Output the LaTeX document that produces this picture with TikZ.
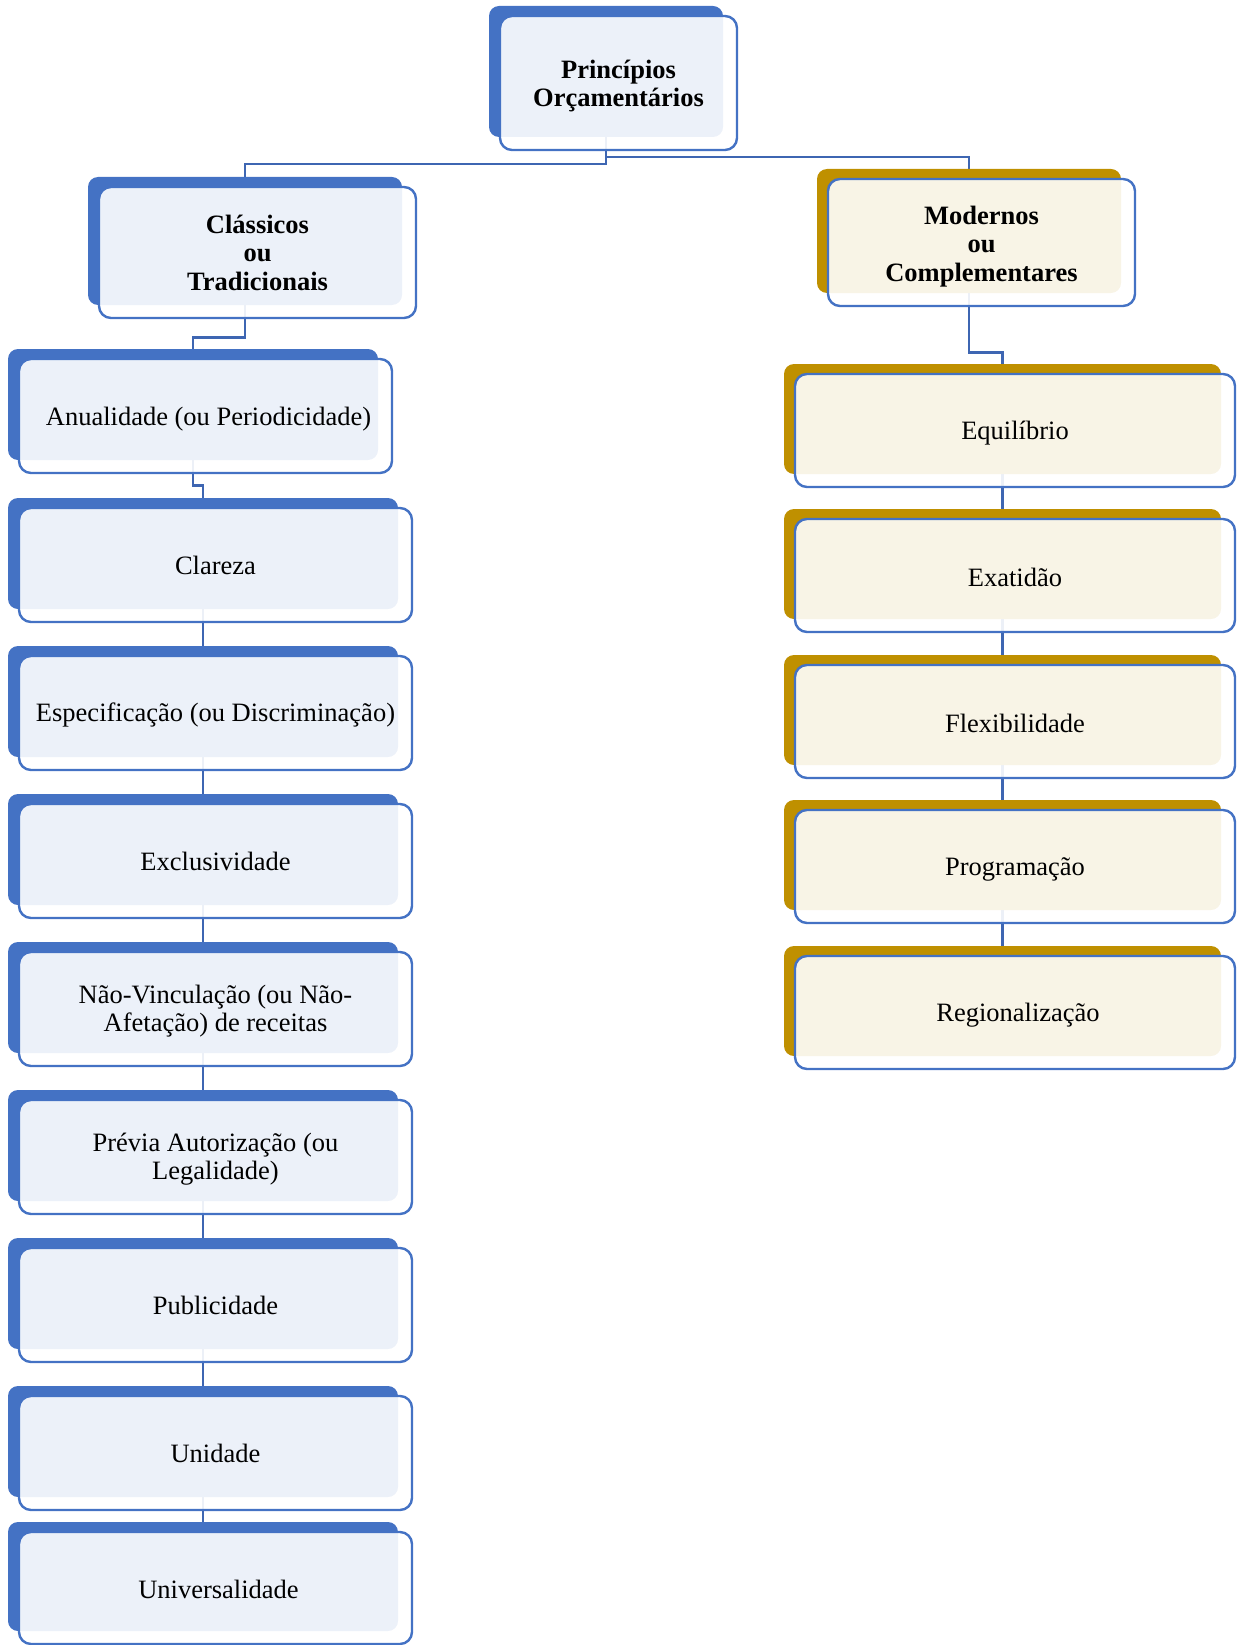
\documentclass[tikz,border=0pt]{standalone}
\usepackage{fontspec}
\setmainfont{Liberation Serif}
\usetikzlibrary{fit,calc}
\pgfdeclarelayer{links}
\pgfsetlayers{links,main}

\definecolor{accentblue}{HTML}{4472C4}
\definecolor{accentgold}{HTML}{BF9000}
\definecolor{linkblue}{HTML}{3E66B2}

\tikzset{
  backbox/.style={rounded corners=10pt, inner sep=0pt, draw=none},
  frontbox/.style={rounded corners=12pt, inner sep=0pt, draw=accentblue,
    line width=2.4pt, fill=white, fill opacity=0.9, draw opacity=1},
  bodytext/.style={inner sep=0pt, align=center, text=black,
    font=\fontsize{26.5}{28.5}\selectfont},
  headtext/.style={bodytext, font=\fontsize{26.5}{28.5}\selectfont\bfseries},
  conn/.style={draw=linkblue, line width=2.6pt},
}

% name, x0, y0, x1, y1, accent colour, text style, label
\newcommand\principle[8]{%
  \node[backbox, fill=#6, fit={(#2,#3) (#4,#5)}] (#1-bg) {};
  \node[frontbox, fit={($(#2,#3)+(11,10)$) ($(#4,#5)+(14,13)$)}] (#1) {};
  \node[#7] (#1-text) at (#1.center) {#8};
}

\begin{document}
\begin{tikzpicture}[x=1pt, y=-1pt]
\useasboundingbox (0,0) rectangle (1240,1645);

% root and the two families
\principle{root}{489}{6}{723}{137}{accentblue}{headtext, yshift=-3pt}{Princípios\\Orçamentários}
\principle{clas}{88}{177}{402}{305}{accentblue}{headtext}{Clássicos\\ou\\Tradicionais}
\principle{mod}{817}{169}{1121}{293}{accentgold}{headtext, yshift=-4pt}{Modernos\\ou\\Complementares}

% classic principles
\principle{anual}{8}{349}{378}{460}{accentblue}{bodytext, xshift=3pt, yshift=-3pt}{Anualidade (ou Periodicidade)}
\principle{clar}{8}{498}{398}{609}{accentblue}{bodytext}{Clareza}
\principle{espec}{8}{646}{398}{757}{accentblue}{bodytext, yshift=-2pt}{Especificação (ou Discriminação)}
\principle{excl}{8}{794}{398}{905}{accentblue}{bodytext}{Exclusividade}
\principle{naov}{8}{942}{398}{1053}{accentblue}{bodytext, yshift=-2pt}{Não-Vinculação (ou Não-\\Afetação) de receitas}
\principle{prev}{8}{1090}{398}{1201}{accentblue}{bodytext, yshift=-2pt}{Prévia Autorização (ou\\Legalidade)}
\principle{publ}{8}{1238}{398}{1349}{accentblue}{bodytext}{Publicidade}
\principle{unid}{8}{1386}{398}{1497}{accentblue}{bodytext}{Unidade}
\principle{univ}{8}{1522}{398}{1631}{accentblue}{bodytext, xshift=3pt, yshift=-1pt}{Universalidade}

% modern principles
\principle{equil}{784}{364}{1221}{474}{accentgold}{bodytext, yshift=-3pt}{Equilíbrio}
\principle{exat}{784}{509}{1221}{619}{accentgold}{bodytext, yshift=-2pt}{Exatidão}
\principle{flex}{784}{655}{1221}{765}{accentgold}{bodytext, yshift=-2pt}{Flexibilidade}
\principle{prog}{784}{800}{1221}{910}{accentgold}{bodytext, yshift=-3pt}{Programação}
\principle{regi}{784}{946}{1221}{1056}{accentgold}{bodytext, xshift=3pt, yshift=-3pt}{Regionalização}

% connectors, kept beneath the boxes
\begin{pgfonlayer}{links}
  \draw[conn] (root-bg.south) -- ++(0,27) -| (clas-bg.north);
  \draw[conn] (root-bg.south) -- ++(0,20) -| (mod-bg.north);
  \draw[conn] (clas-bg.south) -- ++(0,32) -| (anual-bg.north);
  \draw[conn] (anual-bg.south) -- ++(0,25) -| (clar-bg.north);
  \draw[conn] (clar-bg.south) -- (espec-bg.north);
  \draw[conn] (espec-bg.south) -- (excl-bg.north);
  \draw[conn] (excl-bg.south) -- (naov-bg.north);
  \draw[conn] (naov-bg.south) -- (prev-bg.north);
  \draw[conn] (prev-bg.south) -- (publ-bg.north);
  \draw[conn] (publ-bg.south) -- (unid-bg.north);
  \draw[conn] (unid-bg.south) -- (univ-bg.north);
  \draw[conn] (mod-bg.south) -- ++(0,59) -| (equil-bg.north);
  \draw[conn] (equil-bg.south) -- (exat-bg.north);
  \draw[conn] (exat-bg.south) -- (flex-bg.north);
  \draw[conn] (flex-bg.south) -- (prog-bg.north);
  \draw[conn] (prog-bg.south) -- (regi-bg.north);
\end{pgfonlayer}
\end{tikzpicture}
\end{document}
